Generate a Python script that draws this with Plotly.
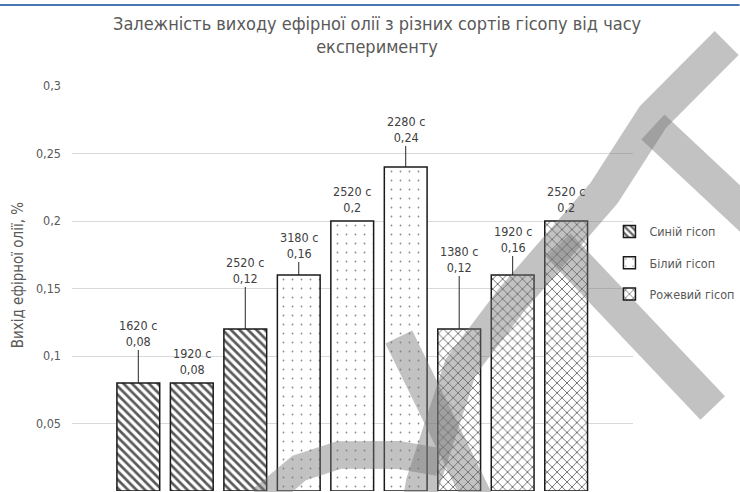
import numpy as np
import plotly.graph_objects as go

# data
varieties = ["Синій гісоп", "Білий гісоп", "Рожевий гісоп"]
times_s = [[1620, 1920, 2520], [3180, 2520, 2280], [1380, 1920, 2520]]
oil_yield = [[0.08, 0.08, 0.12], [0.16, 0.20, 0.24], [0.12, 0.16, 0.20]]
y_ticks = [0, 0.05, 0.1, 0.15, 0.2, 0.25, 0.3]

# label placement (px above bar top) and whether a leader line is drawn
label_offsets = [-50, -22, -59, -30, -22, -38, -70, -36, -22]
label_lines = [True, False, True, True, False, True, True, True, False]

patterns = [
    dict(shape="\\", size=6, solidity=0.45, fgcolor="#5a5a5a"),
    dict(shape=".", size=9, solidity=0.03, fgcolor="#8a8a8a"),
    dict(shape="x", size=7, solidity=0.22, fgcolor="#555555"),
]

FONT = "Liberation Sans Narrow, DejaVu Sans Condensed, Arial Narrow, sans-serif"

# plot area in page pixels (used to place the page decorations)
L, R, T, B = 72, 635, 86, 491


def to_paper(x, y):
    return (x - L) / (R - L), (B - y) / (B - T)


def band_path(points, half):
    """Closed SVG path (paper coords) of a thick band along a pixel polyline."""
    p = np.array(points, dtype=float)
    seg = np.diff(p, axis=0)
    seg /= np.linalg.norm(seg, axis=1)[:, None]
    nrm = np.stack([-seg[:, 1], seg[:, 0]], axis=1)
    vn = np.vstack([nrm[:1], (nrm[:-1] + nrm[1:]) / 2, nrm[-1:]])
    vn /= np.linalg.norm(vn, axis=1)[:, None]
    outline = list(p + vn * half) + list((p - vn * half)[::-1])
    coords = [to_paper(x, y) for x, y in outline]
    return "M" + " L".join(f"{a:.4f},{b:.4f}" for a, b in coords) + " Z"


# watermark strokes seen over the reference picture
watermark = [
    ([(729, 43), (655, 117), (606, 193), (513, 300), (462, 367), (424, 483), (421, 500)], 17),
    ([(560, 245), (715, 408)], 17),
    ([(655, 127), (760, 225)], 17),
    ([(400, 337), (480, 500)], 15),
    ([(262, 500), (300, 468), (340, 455), (400, 455), (440, 462)], 14),
]

fig = go.Figure()
annotations = []
k = 0
for g, name in enumerate(varieties):
    xs = [g * 3 + j for j in range(len(oil_yield[g]))]
    pat = dict(patterns[g], fillmode="replace", bgcolor="white")
    fig.add_trace(
        go.Bar(
            x=xs,
            y=oil_yield[g],
            name=name,
            legendgroup=name,
            width=0.8,
            marker=dict(color="white", pattern=pat, line=dict(color="#1a1a1a", width=1.5)),
        )
    )
    for x, v, t in zip(xs, oil_yield[g], times_s[g]):
        text = f"{t} с<br>{v:g}".replace(".", ",")
        if label_lines[k]:
            annotations.append(dict(
                x=x, y=v, text=text, showarrow=True, ax=0, ay=label_offsets[k],
                arrowhead=0, arrowwidth=1, arrowcolor="#262626", standoff=0,
                font=dict(size=12.5, color="#404040", family=FONT),
            ))
        else:
            annotations.append(dict(
                x=x, y=v, text=text, showarrow=False, yanchor="middle",
                yshift=-label_offsets[k],
                font=dict(size=12.5, color="#404040", family=FONT),
            ))
        k += 1

# chart title and y-axis title
annotations.append(dict(
    xref="paper", yref="paper", x=0.545, y=1.127, xanchor="center", yanchor="middle",
    showarrow=False,
    text="Залежність виходу ефірної олії з різних сортів гісопу від часу<br>експерименту",
    font=dict(size=18, color="#595959", family=FONT),
))
annotations.append(dict(
    xref="paper", yref="paper", x=-0.096, y=0.533, xanchor="center", yanchor="middle",
    showarrow=False, text="Вихід ефірної олії, %", textangle=-90,
    font=dict(size=15, color="#595959", family=FONT),
))

# blue border line at the top of the picture
shapes = [dict(type="line", xref="paper", yref="paper", x0=-0.13, x1=1.19, y0=1.2, y1=1.2,
               line=dict(color="#4a76b8", width=2))]
for pts, half in watermark:
    shapes.append(dict(type="path", xref="paper", yref="paper", path=band_path(pts, half),
                       fillcolor="rgba(120,120,120,0.45)", line=dict(width=0), layer="above"))

fig.update_layout(
    width=740,
    height=492,
    margin=dict(l=L, r=740 - R, t=T, b=492 - B),
    paper_bgcolor="white",
    plot_bgcolor="white",
    separators=", ",
    font=dict(family=FONT, color="#595959"),
    xaxis=dict(range=[-1.24, 9.25], showticklabels=False, showgrid=False,
               zeroline=False, showline=False, ticks=""),
    yaxis=dict(range=[0, 0.3], tickvals=y_ticks, showgrid=True, gridcolor="#d9d9d9",
               gridwidth=1, zeroline=False, showline=False, ticks="",
               ticklabelstandoff=10, tickfont=dict(size=12.5, color="#595959")),
    legend=dict(x=0.958, xanchor="left", y=0.677, yanchor="top",
                font=dict(size=12.5, color="#595959", family=FONT),
                tracegroupgap=12, bgcolor="rgba(0,0,0,0)"),
    annotations=annotations,
    shapes=shapes,
    bargap=0.2,
)

fig.write_html("out.html", config={"displayModeBar": False},
               post_script="document.body.style.margin='0';")
